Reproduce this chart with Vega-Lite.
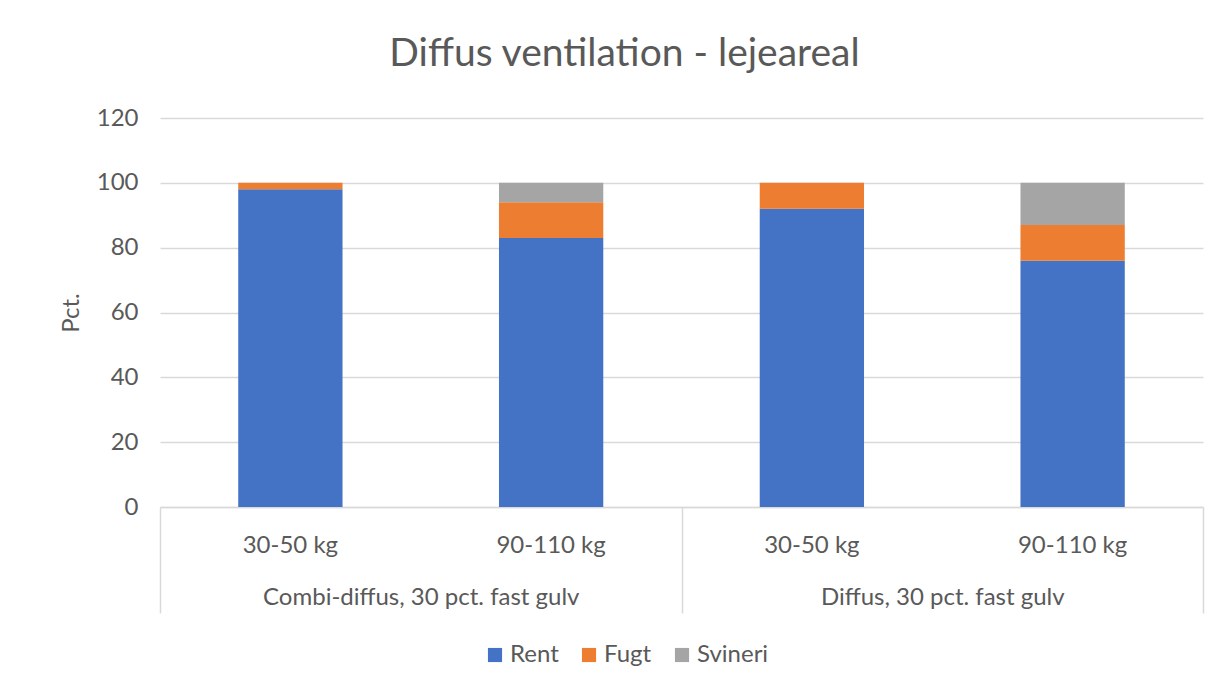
{
  "$schema": "https://vega.github.io/schema/vega-lite/v6.json",
  "width": 1043,
  "height": 389,
  "autosize": {"type": "none"},
  "padding": {"left": 160, "top": 118, "right": 22, "bottom": 188},
  "background": "white",
  "title": {
    "text": "Diffus ventilation - lejeareal",
    "font": "Lato",
    "fontSize": 39,
    "fontWeight": "normal",
    "color": "#595959",
    "anchor": "middle",
    "dx": -57,
    "offset": 32
  },
  "data": {
    "values": [
      {"gruppe": "Combi-diffus, 30 pct. fast gulv", "kategori": "Combi-diffus, 30 pct. fast gulv|30-50 kg", "serie": "Rent", "pct": 98},
      {"gruppe": "Combi-diffus, 30 pct. fast gulv", "kategori": "Combi-diffus, 30 pct. fast gulv|30-50 kg", "serie": "Fugt", "pct": 2},
      {"gruppe": "Combi-diffus, 30 pct. fast gulv", "kategori": "Combi-diffus, 30 pct. fast gulv|30-50 kg", "serie": "Svineri", "pct": 0},
      {"gruppe": "Combi-diffus, 30 pct. fast gulv", "kategori": "Combi-diffus, 30 pct. fast gulv|90-110 kg", "serie": "Rent", "pct": 83},
      {"gruppe": "Combi-diffus, 30 pct. fast gulv", "kategori": "Combi-diffus, 30 pct. fast gulv|90-110 kg", "serie": "Fugt", "pct": 11},
      {"gruppe": "Combi-diffus, 30 pct. fast gulv", "kategori": "Combi-diffus, 30 pct. fast gulv|90-110 kg", "serie": "Svineri", "pct": 6},
      {"gruppe": "Diffus, 30 pct. fast gulv", "kategori": "Diffus, 30 pct. fast gulv|30-50 kg", "serie": "Rent", "pct": 92},
      {"gruppe": "Diffus, 30 pct. fast gulv", "kategori": "Diffus, 30 pct. fast gulv|30-50 kg", "serie": "Fugt", "pct": 8},
      {"gruppe": "Diffus, 30 pct. fast gulv", "kategori": "Diffus, 30 pct. fast gulv|30-50 kg", "serie": "Svineri", "pct": 0},
      {"gruppe": "Diffus, 30 pct. fast gulv", "kategori": "Diffus, 30 pct. fast gulv|90-110 kg", "serie": "Rent", "pct": 76},
      {"gruppe": "Diffus, 30 pct. fast gulv", "kategori": "Diffus, 30 pct. fast gulv|90-110 kg", "serie": "Fugt", "pct": 11},
      {"gruppe": "Diffus, 30 pct. fast gulv", "kategori": "Diffus, 30 pct. fast gulv|90-110 kg", "serie": "Svineri", "pct": 13}
    ]
  },
  "transform": [
    {"calculate": "indexof(['Rent','Fugt','Svineri'], datum.serie)", "as": "stackIdx"}
  ],
  "layer": [
    {
      "mark": {"type": "bar"},
      "encoding": {
        "x": {
          "field": "kategori",
          "type": "nominal",
          "sort": [
            "Combi-diffus, 30 pct. fast gulv|30-50 kg",
            "Combi-diffus, 30 pct. fast gulv|90-110 kg",
            "Diffus, 30 pct. fast gulv|30-50 kg",
            "Diffus, 30 pct. fast gulv|90-110 kg"
          ],
          "scale": {"paddingInner": 0.6, "paddingOuter": 0.3},
          "axis": {
            "orient": "bottom",
            "title": null,
            "domain": true,
            "domainColor": "#d9d9d9",
            "domainWidth": 1.5,
            "ticks": false,
            "grid": false,
            "labelAngle": 0,
            "labelFont": "Lato",
            "labelFontSize": 24,
            "labelColor": "#595959",
            "labelPadding": 26,
            "offset": 0,
            "labelExpr": "split(datum.label, '|')[1]"
          }
        },
        "y": {
          "field": "pct",
          "type": "quantitative",
          "stack": "zero",
          "scale": {"domain": [0, 120]},
          "axis": {
            "title": "Pct.",
            "titleFont": "Lato",
            "titleFontSize": 24,
            "titleFontWeight": "normal",
            "titleColor": "#595959",
            "titlePadding": 13,
            "labelFont": "Lato",
            "labelFontSize": 24,
            "labelColor": "#595959",
            "labelPadding": 22,
            "ticks": false,
            "domain": false,
            "grid": true,
            "gridColor": "#d9d9d9",
            "gridWidth": 1.5,
            "values": [0, 20, 40, 60, 80, 100, 120]
          }
        },
        "color": {
          "field": "serie",
          "type": "nominal",
          "scale": {
            "domain": ["Rent", "Fugt", "Svineri"],
            "range": ["#4472C4", "#ED7D31", "#A5A5A5"]
          },
          "legend": {
            "title": null,
            "orient": "none",
            "legendX": 323,
            "legendY": 525,
            "direction": "horizontal",
            "symbolType": "square",
            "symbolSize": 200,
            "symbolStrokeWidth": 0,
            "labelFont": "Lato",
            "labelFontSize": 24,
            "labelColor": "#595959",
            "labelOffset": 3,
            "columnPadding": 18
          }
        },
        "order": {"field": "stackIdx", "type": "quantitative"}
      }
    },
    {
      "mark": {"type": "point", "opacity": 0},
      "encoding": {
        "x": {
          "field": "gruppe",
          "type": "nominal",
          "sort": ["Combi-diffus, 30 pct. fast gulv", "Diffus, 30 pct. fast gulv"],
          "scale": {"type": "band", "paddingInner": 0, "paddingOuter": 0},
          "axis": {
            "orient": "bottom",
            "title": null,
            "domain": false,
            "ticks": true,
            "tickBand": "extent",
            "tickSize": 106,
            "tickColor": "#d9d9d9",
            "tickWidth": 1.5,
            "grid": false,
            "labelAngle": 0,
            "labelLimit": 0,
            "labelFont": "Lato",
            "labelFontSize": 24,
            "labelColor": "#595959",
            "labelPadding": -28,
            "offset": 0
          }
        }
      }
    }
  ],
  "resolve": {"scale": {"x": "independent"}},
  "config": {
    "view": {"stroke": null}
  }
}
